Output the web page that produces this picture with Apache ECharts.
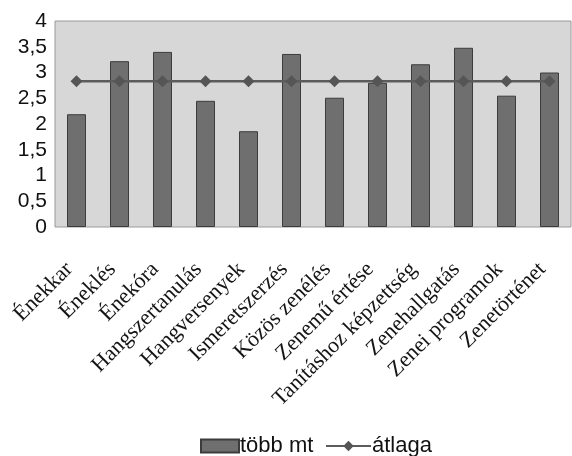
<!DOCTYPE html>
<html>
<head>
<meta charset="utf-8">
<script src="https://cdn.jsdelivr.net/npm/echarts@6/dist/echarts.min.js"></script>
<style>
  html, body { margin: 0; padding: 0; background: #fff; }
  #chart { width: 572px; height: 456px; }
</style>
</head>
<body>
<div id="chart"></div>
<script>
// Activity categories along the x axis
const categories = [
  'Énekkar', 'Éneklés', 'Énekóra', 'Hangszertanulás', 'Hangversenyek',
  'Ismeretszerzés', 'Közös zenélés', 'Zenemű értése', 'Tanításhoz képzettség',
  'Zenehallgatás', 'Zenei programok', 'Zenetörténet'
];
// Mean scores of the "több mt" group
const tobbMt = [2.19, 3.22, 3.40, 2.45, 1.86, 3.36, 2.51, 2.80, 3.16, 3.48, 2.55, 3.00];
// Overall average, repeated per category
const atlaga = [2.83, 2.83, 2.83, 2.83, 2.83, 2.83, 2.83, 2.83, 2.83, 2.83, 2.83, 2.83];
// Value axis ticks
const yTicks = [0, 0.5, 1, 1.5, 2, 2.5, 3, 3.5, 4];

const sansFont = 'Liberation Sans, Arial, sans-serif';
const legendText = { fontFamily: sansFont, fontSize: 22, color: '#111', padding: [0, 0, 0, -4] };

const chart = echarts.init(document.getElementById('chart'), null, { renderer: 'canvas' });

chart.setOption({
  animation: false,
  backgroundColor: '#ffffff',
  grid: {
    left: 55, right: 1, top: 21, bottom: 229,
    show: true,
    backgroundColor: '#d7d7d7',
    borderColor: '#9a9a9a',
    borderWidth: 1
  },
  legend: [
    {
      data: [{ name: 'több mt', icon: 'rect' }],
      left: 200,
      top: 435,
      padding: 0,
      itemWidth: 38,
      itemHeight: 13,
      itemGap: 0,
      textStyle: legendText
    },
    {
      data: [{ name: 'átlaga' }],
      left: 325,
      top: 435,
      padding: 0,
      itemWidth: 45,
      itemHeight: 13,
      itemGap: 0,
      textStyle: legendText
    }
  ],
  xAxis: {
    type: 'category',
    data: categories,
    axisLine: { show: false },
    axisTick: { show: false },
    axisLabel: {
      interval: 0,
      rotate: 45,
      margin: 32,
      padding: [0, 10, 0, 0],
      fontFamily: 'Liberation Serif, Times New Roman, serif',
      fontSize: 22,
      color: '#151515'
    }
  },
  yAxis: {
    type: 'value',
    min: yTicks[0],
    max: yTicks[yTicks.length - 1],
    interval: 0.5,
    splitLine: { show: false },
    axisLine: { show: false },
    axisTick: { show: false },
    axisLabel: {
      margin: 8,
      fontFamily: sansFont,
      fontSize: 21,
      color: '#111',
      formatter: v => String(v).replace('.', ',')
    }
  },
  series: [
    {
      name: 'több mt',
      type: 'bar',
      data: tobbMt,
      barWidth: 19,
      itemStyle: { color: '#6f6f6f', borderColor: '#3c3c3c', borderWidth: 1 }
    },
    {
      name: 'átlaga',
      type: 'line',
      data: atlaga,
      symbol: 'diamond',
      symbolSize: 12,
      lineStyle: { color: '#5c5c5c', width: 2.5 },
      itemStyle: { color: '#555555' }
    }
  ]
});
</script>
</body>
</html>
